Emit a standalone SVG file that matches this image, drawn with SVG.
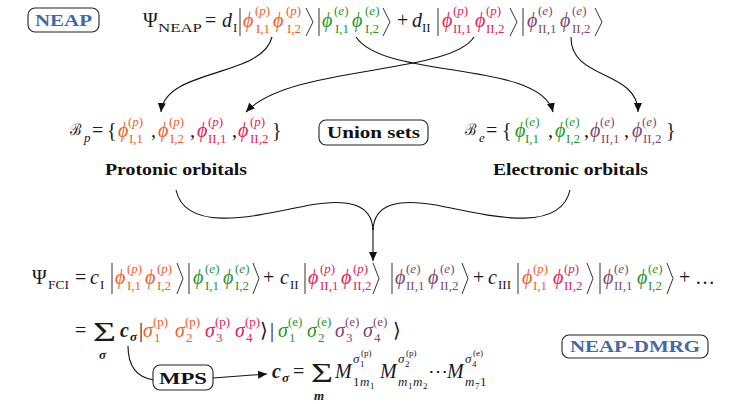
<svg xmlns="http://www.w3.org/2000/svg" width="747" height="404" viewBox="0 0 747 404">
<style>
.m{font-family:"Liberation Serif","DejaVu Serif",serif;font-size:20px;fill:#1a1a1a}
.s{font-family:"Liberation Serif","DejaVu Serif",serif;font-size:13px;fill:#1a1a1a}
.t{font-family:"Liberation Serif","DejaVu Serif",serif;font-size:9px;fill:#1a1a1a}
.it{font-style:italic}
.bi{font-style:italic;font-weight:bold}
.b{font-family:"Liberation Serif","DejaVu Serif",serif;font-weight:bold;font-size:17px;fill:#111;text-anchor:middle}
.blue{fill:#4668a3}
.o{fill:#f4602c}.r{fill:#e0275a}.g{fill:#2b962b}.v{fill:#7e4a70}
.box{fill:#fff;stroke:#222;stroke-width:1.1}
.dl{fill:none;stroke:#333;stroke-width:1}
.cn{fill:none;stroke:#111;stroke-width:1.1}
.cal{font-family:"DejaVu Serif","Liberation Serif",serif;font-size:16px;fill:#1a1a1a}
</style>
<defs>
<marker id="ah" markerUnits="userSpaceOnUse" markerWidth="10" markerHeight="8" refX="9" refY="4" orient="auto">
<path d="M0,0 L9,4 L0,8 z" fill="#111"/>
</marker>
</defs>

<g id="connectors">
<path class="cn" d="M272 37 C262 78,165 68,161 112" marker-end="url(#ah)"/>
<path class="cn" d="M474 37 C450 75,290 65,246 112" marker-end="url(#ah)"/>
<path class="cn" d="M356 37 C385 80,540 60,553 112" marker-end="url(#ah)"/>
<path class="cn" d="M571 37 C570 80,638 70,638 112" marker-end="url(#ah)"/>
<path class="cn" d="M176 190 C186 235,260 215,310 205 C350 198,372 205,373 230"/>
<path class="cn" d="M570 190 C560 235,486 215,436 205 C396 198,374 205,373 230"/>
<path class="cn" d="M373 228 L373 261" marker-end="url(#ah)"/>
<path class="cn" d="M128 346 C128 370,140 378,154 380"/>
<path class="cn" d="M213 378 L267 374" marker-end="url(#ah)"/>
</g>

<g id="neap">
<rect class="box" x="28" y="8" width="71" height="24" rx="7"/>
<text class="b blue" x="63.5" y="26" textLength="57" lengthAdjust="spacingAndGlyphs">NEAP</text>
</g>

<g id="psi-neap">
<text class="m" x="143" y="27">Ψ</text>
<text class="s" x="158" y="32" textLength="44" lengthAdjust="spacingAndGlyphs">NEAP</text>
<text class="m" x="205" y="27">=</text>
<text class="m it" x="222" y="27">d</text><text class="s" x="233" y="32">I</text>
<path class="dl" d="M240 8 V36"/>
<text class="m it o" x="243" y="27">ϕ</text><text class="s o" x="255" y="15">(<tspan class="it">p</tspan>)</text><text class="s o" x="256" y="33">I,1</text>
<text class="m it o" x="273" y="27">ϕ</text><text class="s o" x="286" y="15">(<tspan class="it">p</tspan>)</text><text class="s o" x="287" y="33">I,2</text>
<path class="dl" d="M306 8 L313 22 L306 36"/>
<path class="dl" d="M319 8 V36"/>
<text class="m it g" x="322" y="27">ϕ</text><text class="s g" x="334" y="15">(<tspan class="it">e</tspan>)</text><text class="s g" x="335" y="33">I,1</text>
<text class="m it g" x="352" y="27">ϕ</text><text class="s g" x="365" y="15">(<tspan class="it">e</tspan>)</text><text class="s g" x="365" y="33">I,2</text>
<path class="dl" d="M383 8 L390 22 L383 36"/>
<text class="m" x="397" y="27">+</text>
<text class="m it" x="412" y="27">d</text><text class="s" x="422" y="32">II</text>
<path class="dl" d="M438 8 V36"/>
<text class="m it r" x="442" y="27">ϕ</text><text class="s r" x="453" y="15">(<tspan class="it">p</tspan>)</text><text class="s r" x="453" y="33">II,1</text>
<text class="m it r" x="475" y="27">ϕ</text><text class="s r" x="486" y="15">(<tspan class="it">p</tspan>)</text><text class="s r" x="486" y="33">II,2</text>
<path class="dl" d="M510 8 L517 22 L510 36"/>
<path class="dl" d="M523 8 V36"/>
<text class="m it v" x="527" y="27">ϕ</text><text class="s v" x="538" y="15">(<tspan class="it">e</tspan>)</text><text class="s v" x="538" y="33">II,1</text>
<text class="m it v" x="560" y="27">ϕ</text><text class="s v" x="572" y="15">(<tspan class="it">e</tspan>)</text><text class="s v" x="572" y="33">II,2</text>
<path class="dl" d="M595 8 L602 22 L595 36"/>
</g>

<g id="set-p">
<text class="cal" x="70" y="135" textLength="11" lengthAdjust="spacingAndGlyphs">ℬ</text><text class="s it" x="84" y="142">p</text>
<text class="m" x="92" y="137">=</text>
<text class="m" x="107" y="137">{</text>
<text class="m it o" x="118" y="137">ϕ</text><text class="s o" x="128" y="126">(<tspan class="it">p</tspan>)</text><text class="s o" x="129" y="143">I,1</text>
<text class="m" x="151" y="137">,</text>
<text class="m it o" x="158" y="137">ϕ</text><text class="s o" x="169" y="126">(<tspan class="it">p</tspan>)</text><text class="s o" x="170" y="143">I,2</text>
<text class="m" x="190" y="137">,</text>
<text class="m it r" x="197" y="137">ϕ</text><text class="s r" x="208" y="126">(<tspan class="it">p</tspan>)</text><text class="s r" x="208" y="143">II,1</text>
<text class="m" x="232" y="137">,</text>
<text class="m it r" x="238" y="137">ϕ</text><text class="s r" x="250" y="126">(<tspan class="it">p</tspan>)</text><text class="s r" x="250" y="143">II,2</text>
<text class="m" x="272" y="137">}</text>
</g>

<g id="union">
<rect class="box" x="319" y="120" width="109" height="25" rx="7"/>
<text class="b" x="373.5" y="138" textLength="93" lengthAdjust="spacingAndGlyphs">Union sets</text>
</g>

<g id="set-e">
<text class="cal" x="465" y="135" textLength="11" lengthAdjust="spacingAndGlyphs">ℬ</text><text class="s it" x="479" y="142">e</text>
<text class="m" x="486" y="137">=</text>
<text class="m" x="502" y="137">{</text>
<text class="m it g" x="515" y="137">ϕ</text><text class="s g" x="525" y="126">(<tspan class="it">e</tspan>)</text><text class="s g" x="525" y="143">I,1</text>
<text class="m" x="548" y="137">,</text>
<text class="m it g" x="555" y="137">ϕ</text><text class="s g" x="565" y="126">(<tspan class="it">e</tspan>)</text><text class="s g" x="566" y="143">I,2</text>
<text class="m" x="584" y="137">,</text>
<text class="m it v" x="590" y="137">ϕ</text><text class="s v" x="600" y="126">(<tspan class="it">e</tspan>)</text><text class="s v" x="601" y="143">II,1</text>
<text class="m" x="624" y="137">,</text>
<text class="m it v" x="632" y="137">ϕ</text><text class="s v" x="642" y="126">(<tspan class="it">e</tspan>)</text><text class="s v" x="643" y="143">II,2</text>
<text class="m" x="666" y="137">}</text>
</g>

<g id="protonic">
<text class="b" x="176" y="175" textLength="142" lengthAdjust="spacingAndGlyphs">Protonic orbitals</text>
</g>
<g id="electronic">
<text class="b" x="570.5" y="175" textLength="155" lengthAdjust="spacingAndGlyphs">Electronic orbitals</text>
</g>

<g id="psi-fci">
<text class="m" x="32" y="284">Ψ</text>
<text class="s" x="48" y="289" textLength="21" lengthAdjust="spacingAndGlyphs">FCI</text>
<text class="m" x="75" y="284">=</text>
<text class="m it" x="90" y="284">c</text><text class="s" x="100" y="289">I</text>
<path class="dl" d="M112 263 V294"/>
<text class="m it o" x="115" y="284">ϕ</text><text class="s o" x="127" y="273">(<tspan class="it">p</tspan>)</text><text class="s o" x="127" y="290">I,1</text>
<text class="m it o" x="145" y="284">ϕ</text><text class="s o" x="157" y="273">(<tspan class="it">p</tspan>)</text><text class="s o" x="157" y="290">I,2</text>
<path class="dl" d="M177 263 L183 278.5 L177 294"/>
<path class="dl" d="M189 263 V294"/>
<text class="m it g" x="193" y="284">ϕ</text><text class="s g" x="205" y="273">(<tspan class="it">e</tspan>)</text><text class="s g" x="205" y="290">I,1</text>
<text class="m it g" x="223" y="284">ϕ</text><text class="s g" x="235" y="273">(<tspan class="it">e</tspan>)</text><text class="s g" x="235" y="290">I,2</text>
<path class="dl" d="M253 263 L259 278.5 L253 294"/>
<text class="m" x="263" y="284">+</text>
<text class="m it" x="280" y="284">c</text><text class="s" x="290" y="289">II</text>
<path class="dl" d="M305 263 V294"/>
<text class="m it r" x="308" y="284">ϕ</text><text class="s r" x="320" y="273">(<tspan class="it">p</tspan>)</text><text class="s r" x="320" y="290">II,1</text>
<text class="m it r" x="341" y="284">ϕ</text><text class="s r" x="353" y="273">(<tspan class="it">p</tspan>)</text><text class="s r" x="353" y="290">II,2</text>
<path class="dl" d="M373 263 L379 278.5 L373 294"/>
<path class="dl" d="M392 263 V294"/>
<text class="m it v" x="395" y="284">ϕ</text><text class="s v" x="406" y="273">(<tspan class="it">e</tspan>)</text><text class="s v" x="406" y="290">II,1</text>
<text class="m it v" x="428" y="284">ϕ</text><text class="s v" x="440" y="273">(<tspan class="it">e</tspan>)</text><text class="s v" x="440" y="290">II,2</text>
<path class="dl" d="M462 263 L468 278.5 L462 294"/>
<text class="m" x="473" y="284">+</text>
<text class="m it" x="488" y="284">c</text><text class="s" x="498" y="289">III</text>
<path class="dl" d="M518 263 V294"/>
<text class="m it o" x="522" y="284">ϕ</text><text class="s o" x="533" y="273">(<tspan class="it">p</tspan>)</text><text class="s o" x="533" y="290">I,1</text>
<text class="m it r" x="553" y="284">ϕ</text><text class="s r" x="564" y="273">(<tspan class="it">p</tspan>)</text><text class="s r" x="564" y="290">II,2</text>
<path class="dl" d="M587 263 L593 278.5 L587 294"/>
<path class="dl" d="M600 263 V294"/>
<text class="m it v" x="603" y="284">ϕ</text><text class="s v" x="614" y="273">(<tspan class="it">e</tspan>)</text><text class="s v" x="614" y="290">II,1</text>
<text class="m it g" x="637" y="284">ϕ</text><text class="s g" x="648" y="273">(<tspan class="it">e</tspan>)</text><text class="s g" x="648" y="290">I,2</text>
<path class="dl" d="M667 263 L673 278.5 L667 294"/>
<text class="m" x="679" y="284">+</text>
<text class="m" x="695" y="284">…</text>
</g>

<g id="sum-sigma">
<text class="m" x="75" y="337">=</text>
<text class="m" x="93" y="341" style="font-size:27px" textLength="23" lengthAdjust="spacingAndGlyphs">Σ</text>
<text class="s bi" x="99" y="359">σ</text>
<text class="m bi" x="120" y="337">c</text><text class="s bi" x="130" y="341">σ</text>
<text class="m" x="139" y="337">|</text>
<text class="m it o" x="143" y="337">σ</text><text class="s o" x="153" y="326">(p)</text><text class="s o" x="154" y="342">1</text>
<text class="m it o" x="175" y="337">σ</text><text class="s o" x="185" y="326">(p)</text><text class="s o" x="186" y="342">2</text>
<text class="m it r" x="205" y="337">σ</text><text class="s r" x="215" y="326">(p)</text><text class="s r" x="216" y="342">3</text>
<text class="m it r" x="235" y="337">σ</text><text class="s r" x="245" y="326">(p)</text><text class="s r" x="246" y="342">4</text>
<text class="m" x="260" y="337">⟩</text>
<text class="m" x="270" y="337">|</text>
<text class="m it g" x="278" y="337">σ</text><text class="s g" x="288" y="326">(e)</text><text class="s g" x="289" y="342">1</text>
<text class="m it g" x="307" y="337">σ</text><text class="s g" x="317" y="326">(e)</text><text class="s g" x="318" y="342">2</text>
<text class="m it v" x="335" y="337">σ</text><text class="s v" x="345" y="326">(e)</text><text class="s v" x="346" y="342">3</text>
<text class="m it v" x="363" y="337">σ</text><text class="s v" x="373" y="326">(e)</text><text class="s v" x="374" y="342">4</text>
<text class="m" x="393" y="337">⟩</text>
</g>

<g id="mps">
<rect class="box" x="153" y="365" width="60" height="25" rx="7"/>
<text class="b" x="183" y="384" textLength="48" lengthAdjust="spacingAndGlyphs">MPS</text>
</g>

<g id="c-sigma">
<text class="m bi" x="272" y="378">c</text><text class="s bi" x="282" y="382">σ</text>
<text class="m" x="293" y="378">=</text>
<text class="m" x="311" y="382" style="font-size:27px" textLength="22" lengthAdjust="spacingAndGlyphs">Σ</text>
<text class="s bi" x="314" y="400">m</text>
<text class="m it" x="335" y="378">M</text>
<text class="s it" x="353" y="363">σ</text><text class="t" x="360" y="367">1</text><text class="t" x="361" y="356">(p)</text>
<text class="s" x="353" y="386">1</text><text class="s it" x="360" y="386">m</text><text class="t" x="370" y="389">1</text>
<text class="m it" x="380" y="378">M</text>
<text class="s it" x="398" y="363">σ</text><text class="t" x="405" y="367">2</text><text class="t" x="406" y="356">(p)</text>
<text class="s it" x="398" y="386">m</text><text class="t" x="408" y="389">1</text><text class="s it" x="413" y="386">m</text><text class="t" x="423" y="389">2</text>
<text class="m" x="428" y="378">⋯</text>
<text class="m it" x="447" y="378">M</text>
<text class="s it" x="465" y="363">σ</text><text class="t" x="472" y="367">4</text><text class="t" x="473" y="356">(e)</text>
<text class="s it" x="465" y="386">m</text><text class="t" x="475" y="389">7</text><text class="s" x="480" y="386">1</text>
</g>

<g id="neap-dmrg">
<rect class="box" x="562" y="335" width="146" height="23" rx="7"/>
<text class="b blue" x="635" y="352" textLength="130" lengthAdjust="spacingAndGlyphs">NEAP-DMRG</text>
</g>
</svg>
